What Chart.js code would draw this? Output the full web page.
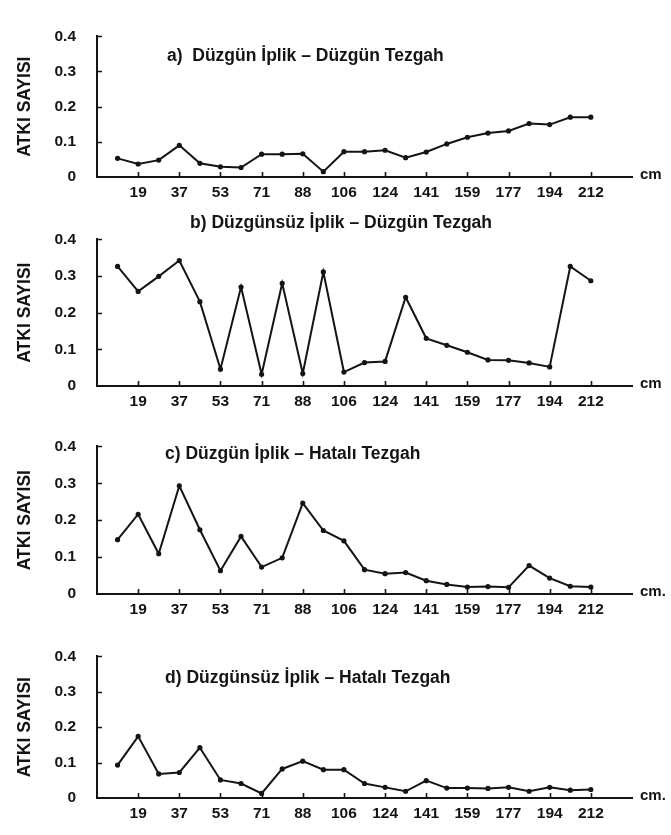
<!DOCTYPE html>
<html><head><meta charset="utf-8">
<script src="https://cdn.jsdelivr.net/npm/chart.js@4.4.0/dist/chart.umd.min.js"></script>
<style>
html,body{margin:0;padding:0;background:#fff;width:671px;height:835px;overflow:hidden}
canvas{position:absolute;left:0}
</style></head><body>
<canvas id="c0"></canvas><canvas id="c1"></canvas><canvas id="c2"></canvas><canvas id="c3"></canvas>
<script>
// ---- data ----
const xTickLabels = ['19','37','53','71','88','106','124','141','159','177','194','212'];
const yTickLabels = ['0','0.1','0.2','0.3','0.4'];
const yAxisTitle = 'ATKI SAYISI';
const panelTitles = [
  'a)  Düzgün İplik – Düzgün Tezgah',
  'b) Düzgünsüz İplik – Düzgün Tezgah',
  'c) Düzgün İplik – Hatalı Tezgah',
  'd) Düzgünsüz İplik – Hatalı Tezgah'
];
const unitLabels = ['cm','cm','cm.','cm.'];
const seriesA = [0.053,0.037,0.048,0.090,0.039,0.029,0.027,0.065,0.065,0.066,0.015,0.072,0.072,0.076,0.055,0.071,0.094,0.113,0.125,0.131,0.152,0.149,0.170,0.170];
const seriesB = [0.326,0.258,0.299,0.342,0.230,0.046,0.270,0.032,0.280,0.034,0.311,0.038,0.064,0.067,0.242,0.130,0.111,0.092,0.071,0.070,0.063,0.052,0.326,0.287];
const seriesC = [0.147,0.216,0.109,0.293,0.174,0.063,0.156,0.073,0.098,0.246,0.172,0.144,0.066,0.055,0.058,0.036,0.026,0.019,0.020,0.018,0.077,0.043,0.021,0.019];
const seriesD = [0.093,0.174,0.068,0.072,0.142,0.051,0.041,0.013,0.082,0.104,0.080,0.080,0.041,0.030,0.019,0.049,0.028,0.028,0.027,0.030,0.019,0.030,0.022,0.024];
const allSeries = [seriesA, seriesB, seriesC, seriesD];

// ---- layout / style ----
const INK = '#141414';
const FONT = '"Liberation Sans", Arial, sans-serif';
const layouts = [
  {top:16,  bottom:177, titleX:167, titleY:56},
  {top:219, bottom:386, titleX:190, titleY:223},
  {top:426, bottom:594, titleX:165, titleY:454},
  {top:636, bottom:798, titleX:165, titleY:678}
];
const PAD_TOP = 10, X_AXIS_H = 32, Y_AXIS_W = 97, RIGHT_PAD = 39;

const decor = {
  id:'decor',
  afterDraw(chart, args, opts){
    const ctx = chart.ctx, x = chart.scales.x, y = chart.scales.y;
    ctx.save();
    ctx.strokeStyle = INK; ctx.lineWidth = 1.6;
    ctx.beginPath();
    y.ticks.forEach(t => { if (t.value > 0) { const py = Math.round(y.getPixelForValue(t.value)) + 0.5; ctx.moveTo(x.left, py); ctx.lineTo(x.left + 5, py); } });
    x.ticks.forEach(t => { const px = Math.round(x.getPixelForValue(t.value)) + 0.5; ctx.moveTo(px, y.bottom); ctx.lineTo(px, y.bottom - 5); });
    ctx.stroke();
    ctx.fillStyle = INK;
    ctx.textBaseline = 'middle'; ctx.textAlign = 'left';
    ctx.font = 'bold 15px ' + FONT;
    ctx.fillText(opts.unit, x.right + 8, y.bottom - 2);
    ctx.font = 'bold 17.5px ' + FONT;
    ctx.fillText(opts.title, opts.titleX, opts.titleY);
    ctx.restore();
  }
};

allSeries.forEach((vals, k) => {
  const L = layouts[k];
  const cv = document.getElementById('c' + k);
  const canvasTop = L.top - PAD_TOP;
  const H = PAD_TOP + (L.bottom - L.top) + X_AXIS_H;
  cv.width = 671; cv.height = H;
  cv.style.width = '671px'; cv.style.height = H + 'px'; cv.style.top = canvasTop + 'px';
  new Chart(cv, {
    type: 'line',
    data: {
      datasets: [{
        data: vals.map((v, i) => ({x: i, y: v})),
        borderColor: INK, backgroundColor: INK,
        borderWidth: 2, pointRadius: 1.6, pointHoverRadius: 1.6,
        tension: 0, fill: false
      }]
    },
    options: {
      responsive: false, animation: false,
      layout: {padding: {top: PAD_TOP, right: RIGHT_PAD, left: 0, bottom: 0}},
      plugins: {
        legend: {display: false}, tooltip: {enabled: false},
        decor: {unit: unitLabels[k], title: panelTitles[k], titleX: L.titleX, titleY: L.titleY - canvasTop}
      },
      scales: {
        x: {
          type: 'linear', min: -1, max: 25,
          afterBuildTicks: s => { s.ticks = xTickLabels.map((_, i) => ({value: 2 * i + 1})); },
          afterFit: s => { s.height = X_AXIS_H; },
          ticks: {
            autoSkip: false, maxRotation: 0, padding: 6, color: INK,
            font: {family: FONT, size: 15.5, weight: 'bold'},
            callback: v => xTickLabels[(v - 1) / 2]
          },
          grid: {display: false, drawTicks: false},
          border: {display: true, color: INK, width: 2}
        },
        y: {
          min: 0, max: 0.4,
          afterFit: s => { s.width = Y_AXIS_W; },
          ticks: {
            stepSize: 0.1, padding: 21, color: INK,
            font: {family: FONT, size: 15.5, weight: 'bold'},
            callback: (v, i) => yTickLabels[i]
          },
          grid: {display: false, drawTicks: false},
          border: {display: true, color: INK, width: 2},
          title: {display: true, text: yAxisTitle, color: INK, padding: {top: 15, bottom: 0},
                  font: {family: FONT, size: 17.5, weight: 'bold'}}
        }
      }
    },
    plugins: [decor]
  });
});
</script>
</body></html>
